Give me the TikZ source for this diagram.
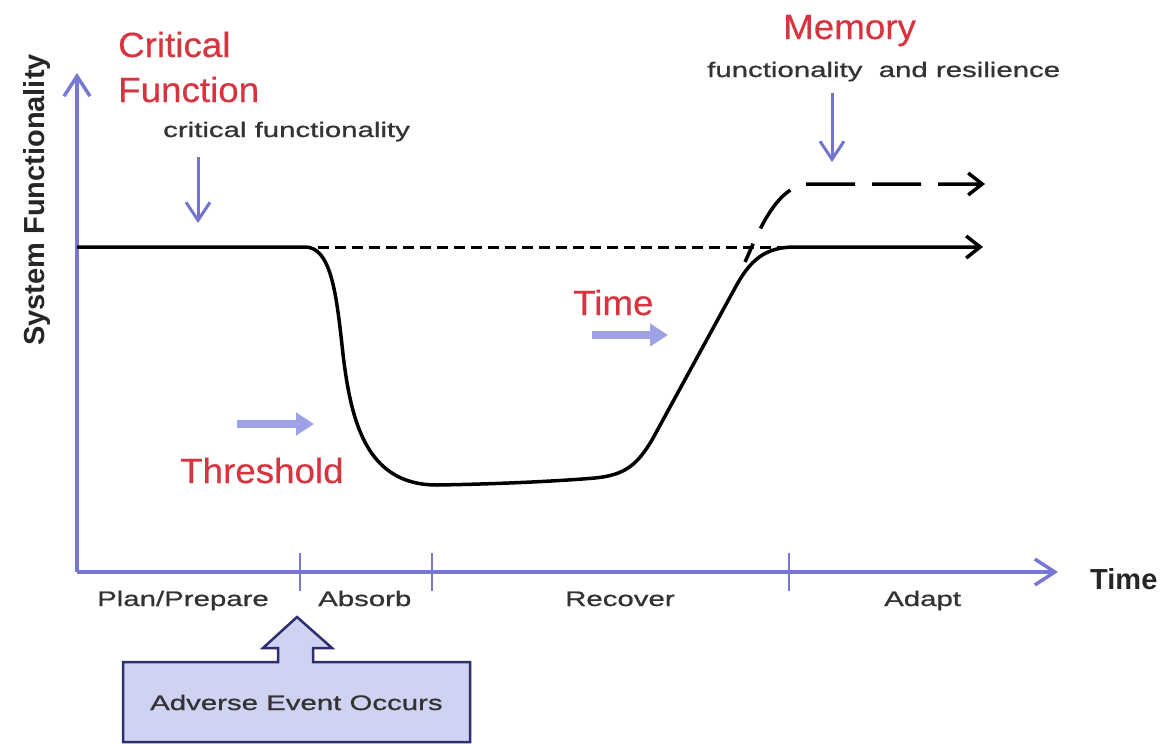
\documentclass[tikz,border=0pt]{standalone}
\usepackage{fontspec}
\setmainfont{Liberation Sans}
\newfontfamily\redfont[FakeStretch=1.05,FakeBold=0.4]{Liberation Sans}
\newfontfamily\blkfont[FakeStretch=1.4,FakeBold=0.9]{Liberation Sans}
\newfontfamily\boldfont{Liberation Sans}
\usetikzlibrary{arrows.meta}
\definecolor{axisblue}{HTML}{7878D2}
\definecolor{arrowblue}{HTML}{7474D0}
\definecolor{lightblue}{HTML}{9EA2E4}
\definecolor{redtxt}{HTML}{D6343F}
\definecolor{graytxt}{HTML}{333333}
\definecolor{boxfill}{HTML}{D0D2F2}
\definecolor{boxline}{HTML}{2E2E6E}
\tikzset{
  redlabel/.style={inner sep=0pt, anchor=base west, text=redtxt, font=\redfont\fontsize{35}{40}\selectfont},
  blklabel/.style={inner sep=0pt, anchor=base west, text=graytxt, font=\blkfont\fontsize{21}{25}\selectfont},
  boldlabel/.style={inner sep=0pt, text=black!85, font=\boldfont\bfseries\fontsize{29}{34}\selectfont},
  axisline/.style={axisblue, line width=3.5pt, -{Straight Barb[length=20pt,width=26pt,line width=3.5pt]}},
  thinblue/.style={arrowblue, line width=3pt, -{Straight Barb[length=18pt,width=24pt,line width=3pt]}},
  thickblue/.style={lightblue, line width=8pt, -{Triangle[length=18pt,width=22pt]}},
  curve/.style={black, line width=3.5pt, -{Straight Barb[length=14pt,width=22pt,line width=3.5pt]}},
  tick/.style={axisblue, line width=2.5pt},
}
\begin{document}
\begin{tikzpicture}[x=1pt,y=-1pt]
\useasboundingbox (0,0) rectangle (1168,744);
% axes
\coordinate (origin) at (77,572);
\coordinate (ytop) at (77,73);
\coordinate (xend) at (1058,572);
\draw[axisline] (origin) -- (ytop);
\draw[axisline] (origin) -- (xend);
\foreach \x/\n in {300/t1,432/t2,789/t3}{
  \draw[tick] (\x,553) coordinate (\n a) -- (\x,591) coordinate (\n b);
}
\node[boldlabel, rotate=90, anchor=base] (ylabel) at (45,200) {System Functionality};
\node[boldlabel, anchor=base west] (xlabel) at (1090,589) {Time};
% phase labels
\node[blklabel] (plan) at (97,606) {Plan/Prepare};
\node[blklabel] (absorb) at (318,606) {Absorb};
\node[blklabel] (recover) at (565,606) {Recover};
\node[blklabel] (adapt) at (884,606) {Adapt};
% main curve
\draw[curve] (77,247) -- (305,247)
  .. controls (330,247) and (336,290) .. (342,345)
  .. controls (350,420) and (365,485) .. (437,485)
  .. controls (500,484) and (560,481) .. (595,478)
  .. controls (625,475) and (637,465) .. (652,440)
  -- (735,288)
  .. controls (750,260) and (765,247) .. (795,247)
  -- (983,247);
% baseline dashed
\draw[black, line width=3pt, dash pattern=on 11pt off 6pt] (318,247) -- (790,247);
% memory dashed
\draw[curve, dash pattern=on 49pt off 17pt, dash phase=29pt]
  (745,262) .. controls (757,236) and (775,186) .. (808,184) -- (985,184);
% texts
\node[redlabel] (crit1) at (118,57) {Critical};
\node[redlabel] (crit2) at (118,102) {Function};
\node[blklabel] (critfun) at (163,137) {critical functionality};
\draw[thinblue] (198,157) -- (198,223);
\node[redlabel] (memory) at (783,39) {Memory};
\node[blklabel] (memfun) at (707,77) {functionality~~and resilience};
\draw[thinblue] (832,93) -- (832,162);
\node[redlabel] (threshold) at (180,483) {Threshold};
\draw[thickblue] (237,424) -- (314,424);
\node[redlabel] (timered) at (573,315) {Time};
\draw[thickblue] (592,335) -- (668,335);
% adverse event block
\draw[boxline, fill=boxfill, line width=2.5pt, line join=miter]
  (123,742) -- (123,662) -- (278,662) -- (278,648) -- (263,648) -- (297,617)
  -- (332,648) -- (313,648) -- (313,662) -- (470,662) -- (470,742) -- cycle;
\node[blklabel] (adverse) at (150,710) {Adverse Event Occurs};
\end{tikzpicture}
\end{document}
